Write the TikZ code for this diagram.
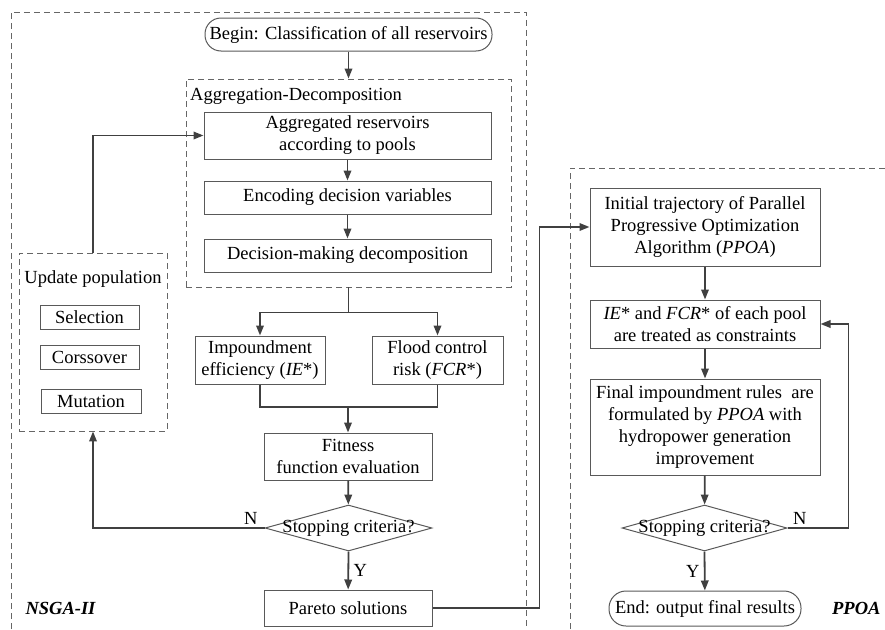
\documentclass[tikz,border=0pt]{standalone}
\usepackage{fontspec}
\setmainfont{Liberation Serif}
\usetikzlibrary{arrows.meta,shapes.geometric}

\tikzset{
  box/.style={draw=black!65, line width=1pt, align=center, inner sep=1pt},
  frame/.style={draw=black!60, line width=0.9pt, dash pattern=on 6pt off 4pt},
  decision/.style={diamond, draw=black!65, line width=1pt, inner sep=0pt},
  link/.style={draw=black!75, line width=1.8pt},
  flow/.style={link, -{Triangle[length=10pt,width=7.5pt]}}
}

\begin{document}
\begin{tikzpicture}[x=1pt,y=-1pt,font=\fontsize{18.5}{22}\selectfont]
        \useasboundingbox (0,0) rectangle (885,629);
        \draw[frame] (11,629) -- (11,12) -- (526,12) -- (526,629);
        \draw[frame] (570,629) -- (570,168) -- (885,168);
        \node[anchor=west] (nsga) at (22,608) {\bfseries\itshape NSGA-II};
        \node[anchor=east] (ppoa) at (884,608) {\bfseries\itshape PPOA};

        % NSGA-II side
        \node[box, rounded corners=16pt, minimum width=287, minimum height=33] (begin) at (348.5,34.5) {Begin: Classification of all reservoirs};
        \node[frame, minimum width=325, minimum height=208] (agg) at (348.5,183) {};
        \node[anchor=west, inner sep=0pt] (aggtitle) at (190,96) {Aggregation-Decomposition};
        \node[box, minimum width=287, minimum height=47] (pool) at (347.5,135.5) {Aggregated reservoirs\\according to pools};
        \node[box, minimum width=287, minimum height=33] (encode) at (347.5,197.5) {Encoding decision variables};
        \node[box, minimum width=287, minimum height=33] (decomp) at (347.5,255.5) {Decision-making decomposition};
        \node[box, minimum width=130, minimum height=48] (ie) at (260,360) {Impoundment\\efficiency (\textit{IE}*)};
        \node[box, minimum width=131, minimum height=48] (fcr) at (437.5,360) {Flood control\\risk (\textit{FCR}*)};
        \node[box, minimum width=168, minimum height=47] (fitness) at (348,456.5) {Fitness\\function evaluation};
        \node[decision, minimum width=167, minimum height=46, label={center:Stopping criteria?}] (stopa) at (348.5,528) {};
        \node[box, minimum width=168, minimum height=36] (pareto) at (348,608) {Pareto solutions};

        \node[frame, minimum width=148, minimum height=178] (update) at (93,342) {};
        \node[inner sep=0pt] (updtitle) at (93,279) {Update population};
        \node[box, minimum width=99, minimum height=24] (select) at (89.5,317) {Selection};
        \node[box, minimum width=99, minimum height=24] (cross) at (89.5,357) {Corssover};
        \node[box, minimum width=100, minimum height=24] (mutate) at (91,401) {Mutation};

        \draw[flow] (begin) -- (agg);
        \draw[flow] (pool) -- (encode);
        \draw[flow] (encode) -- (decomp);
        \draw[link] (agg.south) -- ++(0,25) coordinate (split);
        \draw[flow] (split) -| (ie.north);
        \draw[flow] (split) -| (fcr.north);
        \coordinate (merge) at (348,407);
        \draw[link] (ie.south) |- (merge);
        \draw[link] (fcr.south) |- (merge);
        \draw[flow] (merge) -- (fitness);
        \draw[flow] (fitness) -- (stopa);
        \draw[flow] (stopa.west) -| node[pos=0.04, above=-1pt] {N} (update.south);
        \draw[flow] (stopa.south) -- node[right=1pt] {Y} (pareto);
        \draw[flow] (update.north) |- (pool.west);

        % PPOA side
        \node[box, minimum width=230, minimum height=78] (init) at (705,227) {Initial trajectory of Parallel\\Progressive Optimization\\Algorithm (\textit{PPOA})};
        \node[box, minimum width=230, minimum height=48] (cons) at (705,324) {\textit{IE}* and \textit{FCR}* of each pool\\are treated as constraints};
        \node[box, minimum width=230, minimum height=96] (rules) at (705,427) {Final impoundment rules\ \ are\\formulated by \textit{PPOA} with\\hydropower generation\\improvement};
        \node[decision, minimum width=165, minimum height=46, label={center:Stopping criteria?}] (stopb) at (704.5,528) {};
        \node[box, rounded corners=17pt, minimum width=192, minimum height=35] (finish) at (705,608.5) {End: output final results};

        \draw[flow] (pareto.east) -- ++(107,0) |- (init.west);
        \draw[flow] (init) -- (cons);
        \draw[flow] (cons) -- (rules);
        \draw[flow] (rules) -- (stopb);
        \draw[flow] (stopb.south) -- node[left=1pt] {Y} (finish);
        \draw[flow] (stopb.east) -- node[pos=0.2, above=-1pt] {N} ++(61,0) |- (cons.east);
\end{tikzpicture}
\end{document}
